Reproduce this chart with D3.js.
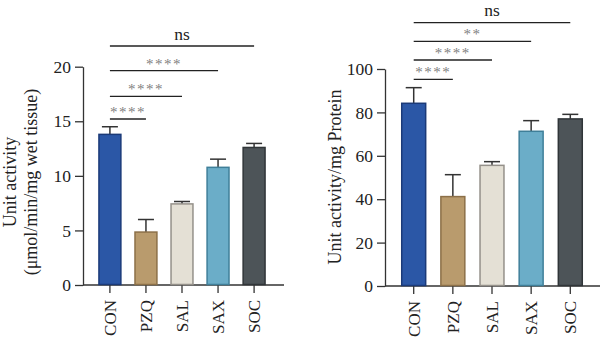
<!DOCTYPE html>
<html>
<meta charset="utf-8">
<script src="https://d3js.org/d3.v7.min.js"></script>
<style>
  body { margin: 0; background: #fff; }
  text { font-family: "Liberation Serif", "DejaVu Serif", serif; }
</style>
<body>
<div id="chart"></div>
<script>

// groups
var groups = ["CON", "PZQ", "SAL", "SAX", "SOC"];
var fills = ["#2b57a6", "#b99b6d", "#e4e0d5", "#6badc8", "#4d5458"];
var strokes = ["#1b3a78", "#8c7048", "#95918a", "#3f7f99", "#303538"];

// left panel: unit activity (umol/min/mg wet tissue)
var leftMean = [13.8, 4.85, 7.43, 10.78, 12.6];
var leftErr  = [0.7, 1.15, 0.22, 0.75, 0.37];
var leftTicks = [0, 5, 10, 15, 20];

// right panel: unit activity / mg protein
var rightMean = [84.2, 41.2, 55.6, 71.3, 77.0];
var rightErr  = [7.2, 10.1, 1.7, 4.9, 2.1];
var rightTicks = [0, 20, 40, 60, 80, 100];

// comparisons vs CON (target group index, label)
var leftSig  = [[1, "****"], [2, "****"], [3, "****"], [4, "ns"]];
var rightSig = [[1, "****"], [2, "****"], [3, "**"], [4, "ns"]];

var svg = d3.select("#chart").append("svg")
    .attr("width", 600)
    .attr("height", 338);

function panel(opt) {
    var g = svg.append("g");

    var y = d3.scaleLinear()
        .domain([0, opt.max])
        .range([opt.y0, opt.yTop]);

    var x = d3.scaleBand()
        .domain(groups)
        .range([opt.xLeft, opt.xRight])
        .paddingInner(opt.pad)
        .paddingOuter(opt.pad / 2 + 0.08);

    // y axis
    var ya = g.append("g")
        .attr("transform", "translate(" + opt.xAxis + ",0)")
        .call(d3.axisLeft(y).tickValues(opt.ticks).tickSize(8).tickSizeOuter(0).tickPadding(4));
    ya.select(".domain").attr("stroke", "#333").attr("stroke-width", 1.3);
    ya.selectAll(".tick line").attr("stroke", "#333").attr("stroke-width", 1.3);
    ya.selectAll(".tick text").attr("font-family", "Liberation Serif").attr("font-size", 17.5).attr("fill", "#222");

    // x axis
    var xa = g.append("g")
        .attr("transform", "translate(0," + opt.y0 + ")")
        .call(d3.axisBottom(x).tickSize(8).tickSizeOuter(0).tickPadding(6));
    xa.select(".domain").attr("d", "M" + opt.xAxis + ",0H" + opt.xEnd).attr("stroke", "#333").attr("stroke-width", 1.3);
    xa.selectAll(".tick line").attr("stroke", "#333").attr("stroke-width", 1.3);
    xa.selectAll(".tick text")
        .attr("font-family", "Liberation Serif")
        .attr("font-size", 17)
        .attr("fill", "#222")
        .attr("transform", "rotate(-90)")
        .attr("text-anchor", "end")
        .attr("dy", "0.35em")
        .attr("x", -15)
        .attr("y", 0);

    // error bars (upper only)
    var eb = g.append("g");
    opt.mean.forEach(function(m, i) {
        var cx = x(groups[i]) + x.bandwidth() / 2;
        eb.append("line")
            .attr("x1", cx).attr("x2", cx)
            .attr("y1", y(m)).attr("y2", y(m + opt.err[i]))
            .attr("stroke", "#333").attr("stroke-width", 1.5);
        eb.append("line")
            .attr("x1", cx - 8).attr("x2", cx + 8)
            .attr("y1", y(m + opt.err[i])).attr("y2", y(m + opt.err[i]))
            .attr("stroke", "#333").attr("stroke-width", 1.5);
    });

    // bars
    g.append("g").selectAll("rect")
        .data(opt.mean)
        .enter()
        .append("rect")
            .attr("x", function(d, i) { return x(groups[i]) + 0.75; })
            .attr("y", function(d) { return y(d); })
            .attr("width", x.bandwidth() - 1.5)
            .attr("height", function(d) { return opt.y0 - y(d) - 0.5; })
            .attr("fill", function(d, i) { return fills[i]; })
            .attr("stroke", function(d, i) { return strokes[i]; })
            .attr("stroke-width", 1.5);

    // significance brackets
    var x0 = x(groups[0]) + x.bandwidth() / 2;
    opt.sig.forEach(function(s, k) {
        var x1 = x(groups[s[0]]) + x.bandwidth() / 2;
        var ly = opt.sigY[k];
        g.append("line")
            .attr("x1", x0).attr("x2", x1)
            .attr("y1", ly).attr("y2", ly)
            .attr("stroke", "#222").attr("stroke-width", 1.3);
        var isNs = s[1] == "ns";
        g.append("text")
            .attr("x", (x0 + x1) / 2)
            .attr("y", isNs ? ly - 6.5 : ly - 2)
            .attr("text-anchor", "middle")
            .attr("font-size", isNs ? 17.5 : 15)
            .attr("letter-spacing", isNs ? 0 : 1.5)
            .attr("fill", isNs ? "#222" : "#808080")
            .text(s[1]);
    });

    // y label
    var lab = g.append("text")
        .attr("transform", "translate(" + opt.labX + "," + opt.labY + ") rotate(-90)")
        .attr("text-anchor", "middle")
        .attr("font-size", 18)
        .attr("fill", "#222");
    opt.label.forEach(function(t, i) {
        lab.append("tspan")
            .attr("x", 0)
            .attr("dy", i == 0 ? 0 : "1.15em")
            .text(t);
    });
}

panel({
    mean: leftMean, err: leftErr, ticks: leftTicks, max: 20,
    y0: 285, yTop: 66.7,
    xAxis: 83, xEnd: 284, xLeft: 89, xRight: 275, pad: 0.35,
    sig: leftSig, sigY: [119, 96.3, 70.7, 46],
    label: ["Unit activity", "(\u03bcmol/min/mg wet tissue)"],
    labX: 16, labY: 182
});

panel({
    mean: rightMean, err: rightErr, ticks: rightTicks, max: 100,
    y0: 286, yTop: 69,
    xAxis: 385, xEnd: 600, xLeft: 391, xRight: 593, pad: 0.35,
    sig: rightSig, sigY: [79.3, 60, 41.3, 22.7],
    label: ["Unit activity/mg Protein"],
    labX: 341, labY: 177
});

</script>
</body>
</html>
